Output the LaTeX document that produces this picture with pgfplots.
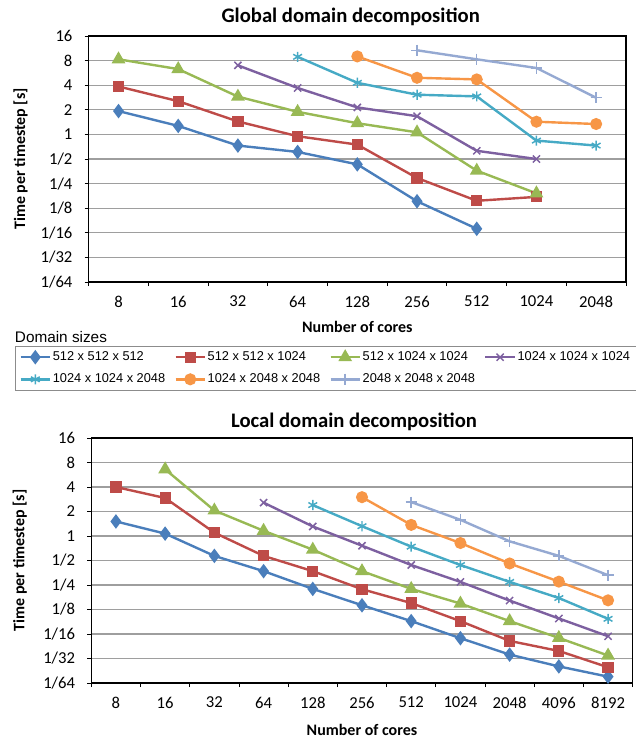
\documentclass[border=0pt]{standalone}
\usepackage{fontspec}
\setmainfont{Carlito}
\newfontfamily\arialfont{Liberation Sans}
\usepackage{pgfplots}
\pgfplotsset{compat=1.18}

\definecolor{sA}{HTML}{4A7EBB}
\definecolor{sB}{HTML}{BE4B48}
\definecolor{sC}{HTML}{98B954}
\definecolor{sD}{HTML}{7D60A0}
\definecolor{sE}{HTML}{46AAC5}
\definecolor{sF}{HTML}{F79646}
\definecolor{sG}{HTML}{95A9D2}

\tikzset{
  mA/.style={sA, line width=1.8pt, mark=diamond*, mark size=4pt},
  mB/.style={sB, line width=1.8pt, mark=square*, mark size=3.3pt},
  mC/.style={sC, line width=1.8pt, mark=triangle*, mark size=4.2pt},
  mD/.style={sD, line width=1.8pt, mark=x, mark size=3.8pt, mark options={line width=1.1pt}},
  mE/.style={sE, line width=1.8pt, mark=asterisk, mark size=3.8pt, mark options={line width=1.1pt}},
  mF/.style={sF, line width=1.8pt, mark=*, mark size=3.6pt},
  mG/.style={sG, line width=1.8pt, mark=+, mark size=4.2pt, mark options={line width=1.1pt}},
}

\begin{document}
\begin{tikzpicture}
\useasboundingbox (0,0) rectangle (477pt,-555pt);

% top panel
\begin{axis}[
  scale only axis,
  at={(66.5pt,-211.5pt)}, anchor=south west,
  width=403pt, height=184.5pt,
  xmin=-0.5, xmax=8.5,
  ymode=log, log basis y=2,
  ymin=0.015625, ymax=16,
  ytick={16,8,4,2,1,0.5,0.25,0.125,0.0625,0.03125,0.015625},
  yticklabels={{16\hspace{17pt}},{8\hspace{17pt}},{4\hspace{17pt}},{2\hspace{17pt}},{1\hspace{17pt}},{1/2\hspace{3pt}},{1/4\hspace{3pt}},{1/8\hspace{3pt}},1/16,1/32,1/64},
  xtick={-0.5,0.5,...,8.5},
  xticklabels={8,16,32,64,128,256,512,1024,2048},
  x tick label as interval,
  ymajorgrids,
  major grid style={black!38, line width=1pt},
  axis line style={black, line width=0.8pt},
  tick pos=left, tick align=outside,
  major tick length=3pt,
  major tick style={black, line width=0.7pt},
  tick label style={font=\fontsize{12.5}{14}\selectfont},
  xticklabel style={yshift=-4pt},
  yticklabel style={anchor=east, inner sep=0pt, xshift=-9pt},
  xlabel={\bfseries Number of cores},
  ylabel={\bfseries Time per timestep [s]},
  label style={font=\fontsize{12}{14}\selectfont},
  xlabel style={at={(axis description cs:0.5,-0.183)}, anchor=center},
  ylabel style={at={(axis description cs:-0.127,0.5)}, anchor=center},
  legend columns=4,
  legend cell align=left,
  legend image code/.code={\draw[mark repeat=2,mark phase=2] plot coordinates {(0pt,0pt) (11pt,0pt) (22pt,0pt)};},
  legend style={at={(axis description cs:-0.137,-0.259)}, anchor=north west,
    draw=black!45, line width=0.6pt, font=\arialfont\fontsize{9.6}{11.5}\selectfont,
    inner xsep=3pt, inner ysep=3pt, row sep=6pt, nodes={inner sep=1.2pt}},
]
\addplot[mA] coordinates {(0,1.93)(1,1.27)(2,0.73)(3,0.61)(4,0.43)(5,0.152)(6,0.070)};
\addlegendentry{\makebox[90pt][l]{512 x 512 x 512}}
\addplot[mB] coordinates {(0,3.86)(1,2.55)(2,1.44)(3,0.95)(4,0.75)(5,0.293)(6,0.154)(7,0.172)};
\addlegendentry{\makebox[90pt][l]{512 x 512 x 1024}}
\addplot[mC] coordinates {(0,8.3)(1,6.3)(2,2.9)(3,1.89)(4,1.37)(5,1.06)(6,0.36)(7,0.19)};
\addlegendentry{\makebox[90pt][l]{512 x 1024 x 1024}}
\addplot[mD] coordinates {(2,7.0)(3,3.7)(4,2.14)(5,1.67)(6,0.63)(7,0.50)};
\addlegendentry{\makebox[86pt][l]{1024 x 1024 x 1024}}
\addplot[mE] coordinates {(3,8.9)(4,4.28)(5,3.06)(6,2.92)(7,0.84)(8,0.73)};
\addlegendentry{\makebox[90pt][l]{1024 x 1024 x 2048}}
\addplot[mF] coordinates {(4,9.0)(5,4.93)(6,4.71)(7,1.43)(8,1.34)};
\addlegendentry{\makebox[90pt][l]{1024 x 2048 x 2048}}
\addplot[mG] coordinates {(5,10.7)(6,8.3)(7,6.5)(8,2.81)};
\addlegendentry{\makebox[90pt][l]{2048 x 2048 x 2048}}
\end{axis}

\node[font=\fontsize{15.5}{18}\selectfont\bfseries, inner sep=0pt] at (263pt,-12.75pt) {Global domain decomposition};
\node[anchor=west, font=\arialfont\fontsize{11.5}{13}\selectfont, inner sep=0pt] at (11pt,-252.5pt) {Domain sizes};

% bottom panel
\begin{axis}[
  scale only axis,
  at={(68.5pt,-512.25pt)}, anchor=south west,
  width=406pt, height=183.75pt,
  xmin=-0.5, xmax=10.5,
  ymode=log, log basis y=2,
  ymin=0.015625, ymax=16,
  ytick={16,8,4,2,1,0.5,0.25,0.125,0.0625,0.03125,0.015625},
  yticklabels={{16\hspace{17pt}},{8\hspace{17pt}},{4\hspace{17pt}},{2\hspace{17pt}},{1\hspace{17pt}},{1/2\hspace{3pt}},{1/4\hspace{3pt}},{1/8\hspace{3pt}},1/16,1/32,1/64},
  xtick={-0.5,0.5,...,10.5},
  xticklabels={8,16,32,64,128,256,512,1024,2048,4096,8192},
  x tick label as interval,
  ymajorgrids,
  major grid style={black!38, line width=1pt},
  axis line style={black, line width=0.8pt},
  tick pos=left, tick align=outside,
  major tick length=3pt,
  major tick style={black, line width=0.7pt},
  tick label style={font=\fontsize{12.5}{14}\selectfont},
  xticklabel style={yshift=-4pt},
  yticklabel style={anchor=east, inner sep=0pt, xshift=-9pt},
  xlabel={\bfseries Number of cores},
  ylabel={\bfseries Time per timestep [s]},
  label style={font=\fontsize{12}{14}\selectfont},
  xlabel style={at={(axis description cs:0.5,-0.192)}, anchor=center},
  ylabel style={at={(axis description cs:-0.132,0.5)}, anchor=center},
]
\addplot[mA] coordinates {(0,1.51)(1,1.07)(2,0.57)(3,0.37)(4,0.224)(5,0.141)(6,0.090)(7,0.0555)(8,0.0349)(9,0.025)(10,0.0187)};
\addplot[mB] coordinates {(0,4.0)(1,2.93)(2,1.10)(3,0.57)(4,0.37)(5,0.222)(6,0.150)(7,0.090)(8,0.0514)(9,0.0387)(10,0.0244)};
\addplot[mC] coordinates {(1,6.6)(2,2.06)(3,1.16)(4,0.68)(5,0.37)(6,0.224)(7,0.148)(8,0.090)(9,0.056)(10,0.034)};
\addplot[mD] coordinates {(3,2.57)(4,1.31)(5,0.76)(6,0.44)(7,0.273)(8,0.161)(9,0.097)(10,0.0587)};
\addplot[mE] coordinates {(4,2.40)(5,1.32)(6,0.74)(7,0.44)(8,0.273)(9,0.173)(10,0.096)};
\addplot[mF] coordinates {(5,3.0)(6,1.37)(7,0.82)(8,0.46)(9,0.275)(10,0.162)};
\addplot[mG] coordinates {(6,2.61)(7,1.58)(8,0.86)(9,0.57)(10,0.33)};
\end{axis}

\node[font=\fontsize{15.5}{18}\selectfont\bfseries, inner sep=0pt] at (265.5pt,-316.5pt) {Local domain decomposition};
\end{tikzpicture}
\end{document}
